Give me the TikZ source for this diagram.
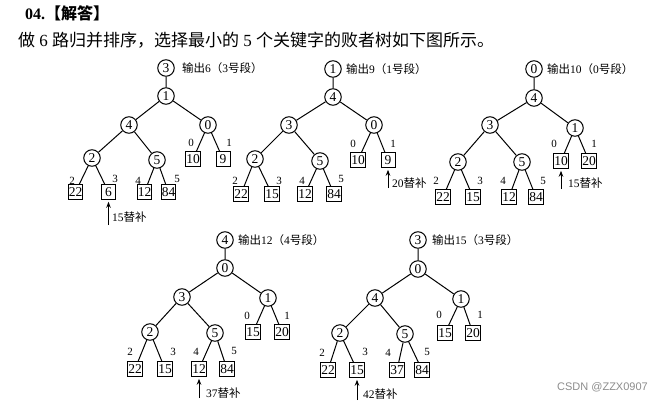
\documentclass[tikz,border=0pt]{standalone}
\usepackage{fontspec}
\setmainfont{Liberation Serif}
\newfontfamily\cjk{Noto Sans CJK SC}
\newfontfamily\wmfont{Liberation Sans}
\usetikzlibrary{arrows.meta}

\begin{document}
\begin{tikzpicture}[
  x=1pt, y=-1pt,
  font=\fontsize{13.5}{13.5}\selectfont,
  loser/.style={circle, draw=black, line width=1pt, minimum size=16.5pt, inner sep=0pt},
  leaf/.style={rectangle, draw=black, line width=1pt, minimum width=14pt,
               minimum height=14.5pt, inner sep=0.5pt},
  seg/.style={font=\fontsize{11}{11}\selectfont, inner sep=0pt},
  outlab/.style={anchor=west, font=\fontsize{11.5}{11.5}\selectfont, inner sep=0pt},
  replab/.style={anchor=west, font=\fontsize{11.5}{11.5}\selectfont, inner sep=0pt},
  link/.style={line width=1pt},
  arr/.style={-{Stealth[length=6pt,width=4.5pt]}, line width=1pt, shorten >=2pt},
]
\useasboundingbox (0,0) rectangle (663,404);
% --- HEADER ---
\node[anchor=west, inner sep=0pt, font=\fontsize{16}{16}\selectfont\bfseries] (title)
  at (25,13) {04.{\cjk 【解答】}};
\node[anchor=west, inner sep=0pt, font=\fontsize{17}{17}\selectfont] (intro)
  at (18,40) {{\cjk 做} 6 {\cjk 路归并排序，选择最小的} 5 {\cjk 个关键字的败者树如下图所示。}};
% --- TREE 1: output 6 ---
\node[loser] (t1w) at (166,68) {3};
\node[outlab] (t1out) at (182,68) {{\cjk 输出}6{\cjk （}3{\cjk 号段）}};
\node[loser] (t1a) at (166,96) {1};
\node[loser] (t1b) at (129,125) {4};
\node[loser] (t1c) at (208,125) {0};
\node[loser] (t1d) at (92,158) {2};
\node[loser] (t1e) at (157,160) {5};
\node[leaf] (t1k0) at (193,159) {10};
\node[leaf] (t1k1) at (223,159) {9};
\node[leaf] (t1k2) at (75.5,192) {22};
\node[leaf] (t1k3) at (108.5,192) {6};
\node[leaf] (t1k4) at (144.5,192) {12};
\node[leaf] (t1k5) at (168.5,192) {84};
\node[seg] (t1s0) at (191,143) {0};
\node[seg] (t1s1) at (229,143) {1};
\node[seg] (t1s2) at (72,181) {2};
\node[seg] (t1s3) at (115,179) {3};
\node[seg] (t1s4) at (138,181) {4};
\node[seg] (t1s5) at (177,179) {5};
\draw[link] (t1w) -- (t1a) (t1a) -- (t1b) (t1a) -- (t1c) (t1b) -- (t1d) (t1b) -- (t1e)
  (t1c) -- (t1k0) (t1c) -- (t1k1) (t1d) -- (t1k2) (t1d) -- (t1k3) (t1e) -- (t1k4) (t1e) -- (t1k5);
\coordinate (t1in) at (108.5,225);
\draw[arr] (t1in) -- (t1k3);
\node[replab] (t1rep) at (112,217) {15{\cjk 替补}};
% --- TREE 2: output 9 ---
\node[loser] (t2w) at (333,69) {1};
\node[outlab] (t2out) at (346,69) {{\cjk 输出}9{\cjk （}1{\cjk 号段）}};
\node[loser] (t2a) at (333,97) {4};
\node[loser] (t2b) at (289,125) {3};
\node[loser] (t2c) at (374,125) {0};
\node[loser] (t2d) at (255,159) {2};
\node[loser] (t2e) at (320,161) {5};
\node[leaf] (t2k0) at (358,160) {10};
\node[leaf] (t2k1) at (388,160) {9};
\node[leaf] (t2k2) at (241,194) {22};
\node[leaf] (t2k3) at (272,194) {15};
\node[leaf] (t2k4) at (305,194) {12};
\node[leaf] (t2k5) at (334,194) {84};
\node[seg] (t2s0) at (353,144) {0};
\node[seg] (t2s1) at (393,144) {1};
\node[seg] (t2s2) at (235,181) {2};
\node[seg] (t2s3) at (279,181) {3};
\node[seg] (t2s4) at (302,181) {4};
\node[seg] (t2s5) at (341,179) {5};
\draw[link] (t2w) -- (t2a) (t2a) -- (t2b) (t2a) -- (t2c) (t2b) -- (t2d) (t2b) -- (t2e)
  (t2c) -- (t2k0) (t2c) -- (t2k1) (t2d) -- (t2k2) (t2d) -- (t2k3) (t2e) -- (t2k4) (t2e) -- (t2k5);
\coordinate (t2in) at (388,188);
\draw[arr] (t2in) -- (t2k1);
\node[replab] (t2rep) at (392,183) {20{\cjk 替补}};
% --- TREE 3: output 10 ---
\node[loser] (t3w) at (534,69) {0};
\node[outlab] (t3out) at (547,69) {{\cjk 输出}10{\cjk （}0{\cjk 号段）}};
\node[loser] (t3a) at (534,98) {4};
\node[loser] (t3b) at (490,125) {3};
\node[loser] (t3c) at (575,128) {1};
\node[loser] (t3d) at (458,162) {2};
\node[loser] (t3e) at (522,162) {5};
\node[leaf] (t3k0) at (561,161) {10};
\node[leaf] (t3k1) at (589,161) {20};
\node[leaf] (t3k2) at (443,197) {22};
\node[leaf] (t3k3) at (473,197) {15};
\node[leaf] (t3k4) at (509,197) {12};
\node[leaf] (t3k5) at (536,197) {84};
\node[seg] (t3s0) at (554,144) {0};
\node[seg] (t3s1) at (594,144) {1};
\node[seg] (t3s2) at (436,181) {2};
\node[seg] (t3s3) at (480,181) {3};
\node[seg] (t3s4) at (503,181) {4};
\node[seg] (t3s5) at (543,181) {5};
\draw[link] (t3w) -- (t3a) (t3a) -- (t3b) (t3a) -- (t3c) (t3b) -- (t3d) (t3b) -- (t3e)
  (t3c) -- (t3k0) (t3c) -- (t3k1) (t3d) -- (t3k2) (t3d) -- (t3k3) (t3e) -- (t3k4) (t3e) -- (t3k5);
\coordinate (t3in) at (561,189);
\draw[arr] (t3in) -- (t3k0);
\node[replab] (t3rep) at (568,183) {15{\cjk 替补}};
% --- TREE 4: output 12 ---
\node[loser] (t4w) at (225,240) {4};
\node[outlab] (t4out) at (238,240) {{\cjk 输出}12{\cjk （}4{\cjk 号段）}};
\node[loser] (t4a) at (225,268) {0};
\node[loser] (t4b) at (182,297) {3};
\node[loser] (t4c) at (268,298) {1};
\node[loser] (t4d) at (150,332) {2};
\node[loser] (t4e) at (215,333) {5};
\node[leaf] (t4k0) at (253,332) {15};
\node[leaf] (t4k1) at (282,332) {20};
\node[leaf] (t4k2) at (135,369) {22};
\node[leaf] (t4k3) at (165,369) {15};
\node[leaf] (t4k4) at (199,369) {12};
\node[leaf] (t4k5) at (227,369) {84};
\node[seg] (t4s0) at (247,316) {0};
\node[seg] (t4s1) at (287,316) {1};
\node[seg] (t4s2) at (130,352) {2};
\node[seg] (t4s3) at (173,352) {3};
\node[seg] (t4s4) at (196,352) {4};
\node[seg] (t4s5) at (234,351) {5};
\draw[link] (t4w) -- (t4a) (t4a) -- (t4b) (t4a) -- (t4c) (t4b) -- (t4d) (t4b) -- (t4e)
  (t4c) -- (t4k0) (t4c) -- (t4k1) (t4d) -- (t4k2) (t4d) -- (t4k3) (t4e) -- (t4k4) (t4e) -- (t4k5);
\coordinate (t4in) at (199,398);
\draw[arr] (t4in) -- (t4k4);
\node[replab] (t4rep) at (206,393) {37{\cjk 替补}};
% --- TREE 5: output 15 ---
\node[loser] (t5w) at (418,240) {3};
\node[outlab] (t5out) at (432,240) {{\cjk 输出}15{\cjk （}3{\cjk 号段）}};
\node[loser] (t5a) at (418,269) {0};
\node[loser] (t5b) at (375,298) {4};
\node[loser] (t5c) at (461,299) {1};
\node[loser] (t5d) at (340,333) {2};
\node[loser] (t5e) at (405,334) {5};
\node[leaf] (t5k0) at (445,333) {15};
\node[leaf] (t5k1) at (473,333) {20};
\node[leaf] (t5k2) at (328,370) {22};
\node[leaf] (t5k3) at (357,370) {15};
\node[leaf] (t5k4) at (397,370) {37};
\node[leaf] (t5k5) at (422,370) {84};
\node[seg] (t5s0) at (439,315) {0};
\node[seg] (t5s1) at (480,315) {1};
\node[seg] (t5s2) at (322,353) {2};
\node[seg] (t5s3) at (365,352) {3};
\node[seg] (t5s4) at (388,353) {4};
\node[seg] (t5s5) at (427,352) {5};
\draw[link] (t5w) -- (t5a) (t5a) -- (t5b) (t5a) -- (t5c) (t5b) -- (t5d) (t5b) -- (t5e)
  (t5c) -- (t5k0) (t5c) -- (t5k1) (t5d) -- (t5k2) (t5d) -- (t5k3) (t5e) -- (t5k4) (t5e) -- (t5k5);
\coordinate (t5in) at (357,400);
\draw[arr] (t5in) -- (t5k3);
\node[replab] (t5rep) at (363,394) {42{\cjk 替补}};
% --- watermark ---
\node[anchor=east, inner sep=0pt, text=black!45, font=\wmfont\fontsize{11}{11}\selectfont]
  (mark) at (648,387) {CSDN @ZZX0907};
\end{tikzpicture}
\end{document}
